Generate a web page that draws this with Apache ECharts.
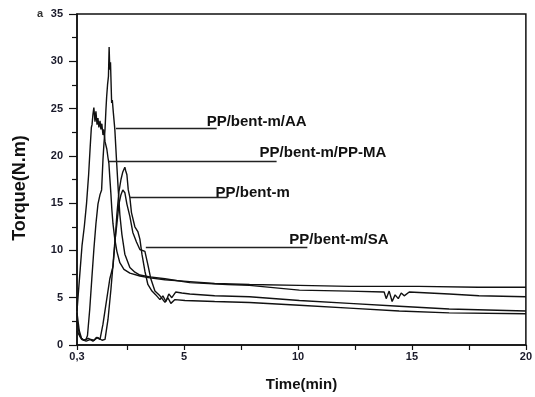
<!DOCTYPE html>
<html>
<head>
<meta charset="utf-8">
<script src="https://cdn.jsdelivr.net/npm/echarts@6/dist/echarts.min.js"></script>
<style>html,body{margin:0;padding:0;background:#fff}#c{width:535px;height:397px}</style>
</head>
<body>
<div id="c"></div>
<script>
// Time (min) and torque (N.m)
const ppmaT = [0.30,0.36,0.44,0.52,0.62,0.72,0.81,0.88,0.93,0.96,1.00,1.04,1.09,1.13,1.18,1.22,1.26,1.31,1.35,1.39,1.44,1.48,1.53,1.57,1.61,1.66,1.70,1.74,1.79,1.83,1.88,1.96,2.05,2.18,2.36,2.62,3.06,3.50,4.16,5.25,6.34,7.87,10.06,12.25,15.3,17.9,20.0];
const ppmaV = [3.6,5.5,8.0,10.5,12.5,15.0,18.0,21.0,23.0,23.3,24.4,25.1,23.6,24.7,23.3,24.0,23.0,23.7,22.8,23.4,22.2,22.8,21.5,21.7,20.7,19.8,19.2,17.7,15.9,14.3,12.8,11.2,9.9,8.7,8.0,7.6,7.3,7.1,6.9,6.7,6.5,6.4,6.3,6.2,6.2,6.1,6.1];

const aaT = [0.30,0.40,0.50,0.60,0.70,0.76,0.86,0.95,1.04,1.13,1.22,1.31,1.38,1.44,1.48,1.53,1.57,1.60,1.64,1.68,1.70,1.71,1.74,1.77,1.82,1.85,1.89,1.96,2.04,2.11,2.18,2.27,2.40,2.62,2.84,3.06,3.50,4.16,5.25,6.9,7.87,10.06,12.25,13.78,13.87,14.0,14.13,14.26,14.4,14.53,14.66,14.88,16.63,17.94,20.0];
const aaV = [3.4,1.5,0.7,0.5,0.6,1.0,3.8,7.0,10.1,12.8,14.9,15.9,16.4,19.6,21.2,22.8,24.9,26.2,27.5,28.4,28.3,31.5,29.1,29.9,25.6,25.9,24.7,22.8,19.3,16.4,13.8,11.7,9.6,8.2,7.7,7.4,7.2,7.0,6.6,6.4,6.3,5.8,5.7,5.6,4.9,5.7,4.6,5.3,4.9,5.5,5.2,5.6,5.4,5.2,5.1];

const bentT = [0.30,0.40,0.50,0.70,0.90,1.05,1.15,1.31,1.44,1.57,1.74,1.88,1.96,2.05,2.14,2.23,2.31,2.40,2.44,2.49,2.55,2.62,2.69,2.84,2.97,3.06,3.15,3.28,3.41,3.59,3.76,3.94,4.07,4.20,4.33,4.46,4.63,4.90,5.25,6.34,7.87,10.06,12.25,14.44,16.63,20.0];
const bentV = [2.5,1.2,0.6,0.4,0.6,0.5,0.8,0.6,2.2,4.3,7.0,8.3,10.6,13.8,16.2,17.5,18.3,18.8,18.4,18.0,16.4,15.6,14.0,12.5,12.0,11.2,9.6,7.8,6.4,5.7,5.3,4.8,5.2,4.6,5.4,5.0,5.6,5.5,5.4,5.2,5.1,4.7,4.4,4.1,3.8,3.6];

const saT = [0.30,0.45,0.60,0.80,1.00,1.20,1.40,1.53,1.66,1.79,1.88,1.96,2.05,2.14,2.23,2.31,2.40,2.49,2.62,2.75,2.91,3.06,3.28,3.41,3.54,3.72,3.94,4.16,4.29,4.42,4.60,5.04,6.34,7.87,10.06,12.25,14.44,16.63,20.0];
const saV = [1.5,0.8,0.5,0.7,0.4,0.8,0.5,0.6,2.7,5.9,8.5,10.9,12.8,14.9,15.9,16.4,16.1,14.9,13.6,11.9,10.9,10.1,9.9,8.5,7.0,5.7,5.2,4.5,5.0,4.4,4.8,4.7,4.6,4.5,4.2,3.9,3.6,3.4,3.3];

// annotation leader lines: [start time, end time, torque]
const labelNames = ['PP/bent-m/AA','PP/bent-m/PP-MA','PP/bent-m','PP/bent-m/SA'];
const leaderStart = [2.01, 1.70, 2.62, 3.32];
const leaderEnd = [6.43, 9.06, 6.91, 10.41];
const leaderY = [22.9, 19.4, 15.6, 10.3];
const labelOffset = [[-10,-7],[-17,-9],[-12,-5],[-18,-8]];

const xLabelVals = [0.3,5,10,15,20];
const xTickVals = [0.3,2.5,5,7.5,10,12.5,15,17.5,20];

function zip(t,v){return t.map((x,i)=>[x,v[i]]);}

const font = '"Liberation Sans", Arial, sans-serif';
const lineCol = '#111';
const curves = [[ppmaT,ppmaV],[aaT,aaV],[bentT,bentV],[saT,saV]].map(([t,v])=>({
  type:'line', data:zip(t,v), showSymbol:false, symbol:'none', silent:true,
  lineStyle:{color:lineCol,width:1.4}, z:3
}));
const leaders = labelNames.map((n,i)=>({
  type:'line', showSymbol:true, symbol:'circle', symbolSize:0.1, silent:true,
  lineStyle:{color:'#222',width:1.5}, itemStyle:{color:'rgba(0,0,0,0)'}, z:4,
  data:[[leaderStart[i],leaderY[i]],{value:[leaderEnd[i],leaderY[i]],label:{
    show:true, formatter:n, position:labelOffset[i], align:'left', verticalAlign:'middle',
    fontFamily:font, fontWeight:'bold', fontSize:15, color:'#111'}}]
}));

const chart = echarts.init(document.getElementById('c'));
chart.setOption({
  animation:false,
  backgroundColor:'#fff',
  grid:{left:77,right:8,top:14,bottom:51,show:true,borderColor:'#111',borderWidth:1.5},
  xAxis:{type:'value',min:0.3,max:20,
    name:'Time(min)',nameLocation:'middle',nameGap:32,
    nameTextStyle:{fontFamily:font,fontWeight:'bold',fontSize:15,color:'#111'},
    axisLine:{show:true,onZero:false,lineStyle:{color:'#111',width:1.5}},
    axisTick:{show:true,length:5,customValues:xTickVals,lineStyle:{color:'#111',width:1.2}},
    axisLabel:{customValues:xLabelVals,margin:6,fontFamily:font,fontWeight:'bold',fontSize:11,color:'#1a1a2a',
      formatter:v=>String(Math.round(v*10)/10).replace('.',',')},
    splitLine:{show:false}},
  yAxis:{type:'value',min:0,max:35,interval:5,
    axisLine:{show:true,lineStyle:{color:'#111',width:1.5}},
    axisTick:{show:true,length:8,lineStyle:{color:'#111',width:1.2}},
    minorTick:{show:true,splitNumber:2,length:5,lineStyle:{color:'#111',width:1.2}},
    axisLabel:{margin:14,fontFamily:font,fontWeight:'bold',fontSize:11,color:'#1a1a2a'},
    splitLine:{show:false}},
  graphic:[
    {type:'text',left:37,top:8,style:{text:'a',font:'bold 11px '+font,fill:'#333'}},
    {type:'text',x:20,y:188,rotation:Math.PI/2,style:{text:'Torque(N.m)',font:'bold 18px '+font,fill:'#111',align:'center',verticalAlign:'middle'}}
  ],
  series:[...curves,...leaders]
});
</script>
</body>
</html>
